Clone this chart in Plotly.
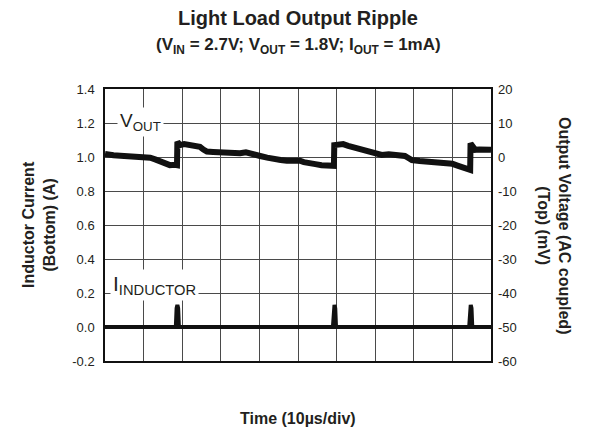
import plotly.graph_objects as go

# ---- data ----
time_vout_us = [0, 1, 2.2, 4, 5.6, 7.5, 9.1, 10.5, 11.7, 13, 14.3, 15.5, 16.8, 18.1, 18.65,
                18.75, 19.4, 20.5, 22, 23.5, 24.6, 25.5, 26.4, 28, 29.8, 32, 35, 36.5, 37.6, 39,
                40.2, 42, 43.6, 45.5, 47.1, 49, 50.5, 51.5, 52.7, 54.5, 56.1, 57.5, 58.7, 59.3,
                59.4, 60.5, 61.7, 63, 64.8, 66.5, 68.2, 70, 71.7, 73.5, 75.1, 76.5, 77.7, 78.6,
                79.5, 81.5, 83.8, 86, 88.1, 90, 91.5, 92.7, 93.7, 94.4, 94.6, 94.7, 95.3, 95.9,
                97, 98.5, 100]
vout_mv = [0.9, 0.6, 0.5, 0.4, 0.3, 0.4, 0.3, 0.1, -0.2, -0.7, -1.4, -2.0, -2.4, -2.3, -2.4,
           4.5, 3.5, 3.8, 3.5, 3.3, 3.0, 2.2, 1.6, 1.5, 1.3, 1.2, 1.1, 1.4, 1.2, 0.8,
           0.3, -0.2, -0.7, -0.9, -1.1, -1.0, -1.1, -1.5, -1.9, -2.1, -2.4, -2.5, -2.6, -2.6,
           3.5, 3.6, 3.8, 3.3, 2.8, 2.2, 1.6, 1.0, 0.6, 0.8, 0.7, 0.5, 0.3, -0.3,
           -0.9, -1.2, -1.4, -1.5, -1.7, -2.0, -2.6, -3.2, -3.6, -3.9, -3.8, 4.0, 2.6, 2.1,
           2.2, 2.0, 2.1]

time_il_us = [0, 18.35, 18.55, 18.75, 18.95, 19.15,
              59.05, 59.25, 59.45, 59.65, 59.85,
              94.35, 94.55, 94.75, 94.95, 95.15, 100]
il_amp = [0, 0, 0.11, 0.13, 0.11, 0,
          0, 0.11, 0.13, 0.11, 0,
          0, 0.11, 0.13, 0.11, 0, 0]

left_tick_vals = [-0.2, 0.0, 0.2, 0.4, 0.6, 0.8, 1.0, 1.2, 1.4]
left_tick_text = ["-0.2", "0.0", "0.2", "0.4", "0.6", "0.8", "1.0", "1.2", "1.4"]
right_tick_vals = [-60, -50, -40, -30, -20, -10, 0, 10, 20]
right_tick_text = ["-60", "-50", "-40", "-30", "-20", "-10", "0", "10", "20"]

FONT = "Liberation Sans, Arial, sans-serif"
INK = "#231f20"
GRID = "#4a4a4a"

fig = go.Figure()
fig.add_trace(go.Scatter(x=time_il_us, y=il_amp, mode="lines", yaxis="y",
                         line=dict(color="#111111", width=4), showlegend=False,
                         hoverinfo="skip"))
fig.add_trace(go.Scatter(x=time_vout_us, y=vout_mv, mode="lines", yaxis="y2",
                         line=dict(color="#111111", width=6), showlegend=False,
                         hoverinfo="skip"))

# page body has an 8px margin, so the figure is 8px smaller and shifted
fig.update_layout(
    width=584, height=427,
    margin=dict(l=97, r=101, t=81, b=74),
    paper_bgcolor="white", plot_bgcolor="white",
    font=dict(family=FONT, color=INK, size=13),
    xaxis=dict(range=[0, 100], dtick=10, tick0=0, showticklabels=False, ticks="",
               showgrid=True, gridcolor=GRID, gridwidth=1, zeroline=False,
               showline=True, linecolor="#111111", linewidth=1.5, mirror=True),
    yaxis=dict(range=[-0.2, 1.4], tickvals=left_tick_vals, ticktext=left_tick_text,
               ticks="", showgrid=True, gridcolor=GRID, gridwidth=1, zeroline=False,
               showline=True, linecolor="#111111", linewidth=1.5, mirror=True,
               tickfont=dict(size=13, color=INK), ticklabelstandoff=6),
    yaxis2=dict(range=[-60, 20], tickvals=right_tick_vals, ticktext=right_tick_text,
                overlaying="y", side="right", ticks="", showgrid=False, zeroline=False,
                showline=False, tickfont=dict(size=13, color=INK), ticklabelstandoff=6),
)

ann = []
ann.append(dict(text="<b>Light Load Output Ripple</b>", xref="paper", yref="paper",
                x=0.5, y=1, yshift=71, xanchor="center", yanchor="middle",
                showarrow=False, font=dict(size=20, color=INK)))
ann.append(dict(text="<b>(V<sub>IN</sub> = 2.7V; V<sub>OUT</sub> = 1.8V; I<sub>OUT</sub> = 1mA)</b>",
                xref="paper", yref="paper", x=0.5, y=1, yshift=43, xanchor="center",
                yanchor="middle", showarrow=False, font=dict(size=17, color=INK)))
ann.append(dict(text="<b>Time (10µs/div)</b>", xref="paper", yref="paper",
                x=0.5, y=0, yshift=-57, xanchor="center", yanchor="middle",
                showarrow=False, font=dict(size=16, color=INK)))
ann.append(dict(text="<b>Inductor Current<br>(Bottom) (A)</b>", xref="paper", yref="paper",
                x=0, xshift=-66, y=0.5, xanchor="center", yanchor="middle",
                showarrow=False, textangle=-90, font=dict(size=16, color=INK)))
ann.append(dict(text="<b>Output Voltage (AC coupled)<br>(Top) (mV)</b>", xref="paper",
                yref="paper", x=1, xshift=63, y=0.5, xanchor="center", yanchor="middle",
                showarrow=False, textangle=90, font=dict(size=16, color=INK)))
ann.append(dict(text="V<sub>OUT</sub>", xref="x", yref="y", x=9.3, y=1.205,
                xanchor="center", yanchor="middle",
                showarrow=False, bgcolor="white", borderpad=2,
                font=dict(size=19, color=INK)))
ann.append(dict(text="I<sub>INDUCTOR</sub>", xref="x", yref="y", x=12.9, y=0.25,
                xanchor="center", yanchor="middle",
                showarrow=False, bgcolor="white", borderpad=2,
                font=dict(size=21, color=INK)))
fig.update_layout(annotations=ann)

fig.write_html("out.html")
